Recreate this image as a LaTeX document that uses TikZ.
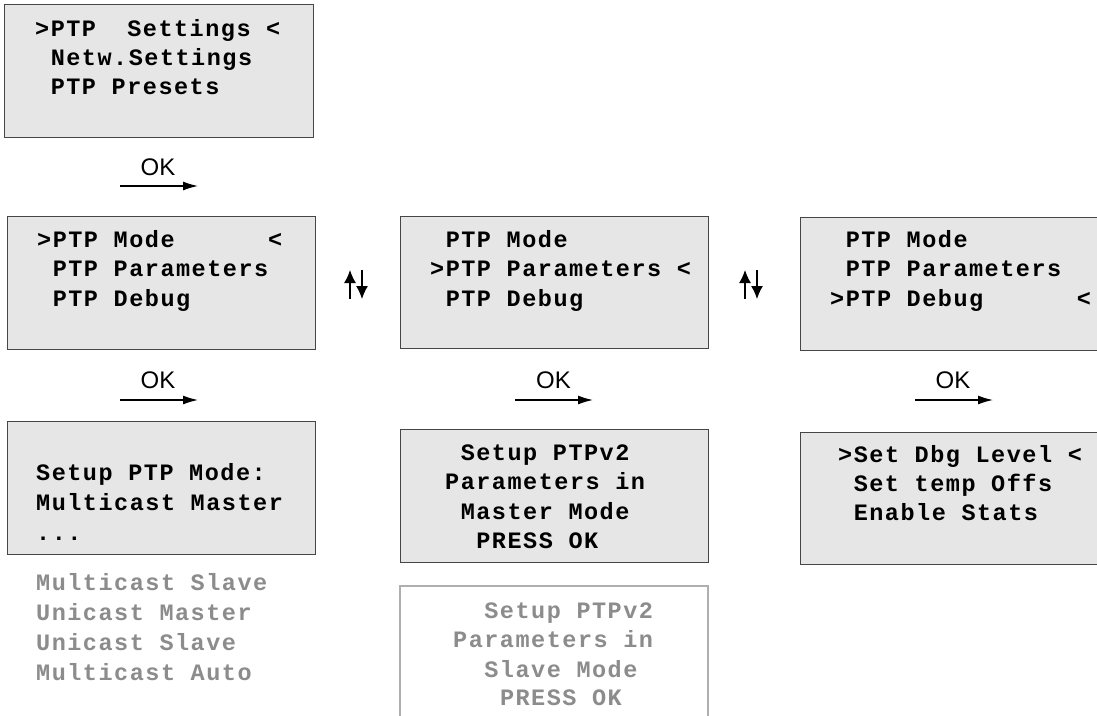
\documentclass[tikz,border=0pt]{standalone}
\usepackage{fontspec}
\setmainfont{Liberation Sans}
\newfontfamily\lcdfont[LetterSpace=6.4]{Liberation Mono}
\usetikzlibrary{arrows.meta}
\definecolor{boxfill}{RGB}{230,230,230}
\definecolor{boxline}{RGB}{70,70,70}
\definecolor{greytext}{RGB}{140,140,140}
\definecolor{greyline}{RGB}{175,175,175}
\newcommand\sk{\hspace{15.6pt}}
\begin{document}
\begin{tikzpicture}[x=1pt,y=-1pt,
  screen/.style={draw=boxline, fill=boxfill, line width=1.3pt, anchor=north west, inner sep=0pt},
  ghostscreen/.style={draw=greyline, line width=1.3pt},
  ln/.style={anchor=base west, inner sep=0pt, font=\lcdfont\bfseries\fontsize{23.5}{29}\selectfont},
  gln/.style={ln, text=greytext},
  oklabel/.style={anchor=base, inner sep=0pt, font=\fontsize{24}{28}\selectfont},
  okarrow/.style={line width=1.3pt, -{Latex[length=15pt,width=9pt]}},
  updown/.style={line width=1.3pt, -{Latex[length=13pt,width=12pt]}}]
\useasboundingbox (0,0) rectangle (1097,715);
\clip (0,0) rectangle (1097,715);
\fill[white] (0,0) rectangle (1097,715);

% screens
\node[screen, minimum width=309pt, minimum height=133pt] (b1) at (4,4) {};
\node[screen, minimum width=308pt, minimum height=133pt] (b2) at (7,216) {};
\node[screen, minimum width=308pt, minimum height=132pt] (b3) at (400,216) {};
\node[screen, minimum width=320pt, minimum height=133pt] (b4) at (800,217) {};
\node[screen, minimum width=308pt, minimum height=133pt] (b5) at (7,421) {};
\node[screen, minimum width=308pt, minimum height=133pt] (b6) at (400,429) {};
\node[screen, minimum width=320pt, minimum height=132pt] (b7) at (800,432) {};
\draw[ghostscreen] (400,740) -- (400,586) -- (708,586) -- (708,740);

% box 1
\node[ln] (t11) at (35,36) {>PTP\sk\sk Settings <};
\node[ln] (t12) at (50.6,65) {Netw.Settings};
\node[ln] (t13) at (50.6,94) {PTP Presets};
% box 2
\node[ln] (t21) at (37,247) {>PTP Mode\sk\sk\sk\sk\sk\sk<};
\node[ln] (t22) at (52.6,276.5) {PTP Parameters};
\node[ln] (t23) at (52.6,306) {PTP Debug};
% box 3
\node[ln] (t31) at (445.6,247) {PTP Mode};
\node[ln] (t32) at (430,276.5) {>PTP Parameters <};
\node[ln] (t33) at (445.6,306) {PTP Debug};
% box 4
\node[ln] (t41) at (845.6,247) {PTP Mode};
\node[ln] (t42) at (845.6,276.5) {PTP Parameters};
\node[ln] (t43) at (830,306) {>PTP Debug\sk\sk\sk\sk\sk\sk<};
% box 5
\node[ln] (t51) at (36,480) {Setup PTP Mode:};
\node[ln] (t52) at (36,510) {Multicast Master};
\node[ln] (t53) at (36,540) {...};
\node[gln] (g51) at (36,590) {Multicast Slave};
\node[gln] (g52) at (36,620) {Unicast Master};
\node[gln] (g53) at (36,650) {Unicast Slave};
\node[gln] (g54) at (36,680) {Multicast Auto};
% box 6
\node[ln] (t61) at (460.6,460) {Setup PTPv2};
\node[ln] (t62) at (445,489.5) {Parameters in};
\node[ln] (t63) at (460.6,519) {Master Mode};
\node[ln] (t64) at (476.2,548.5) {PRESS OK};
% ghost box
\node[gln] (g61) at (484.2,618) {Setup PTPv2};
\node[gln] (g62) at (453,647) {Parameters in};
\node[gln] (g63) at (484.2,677) {Slave Mode};
\node[gln] (g64) at (499.8,705) {PRESS OK};
% box 7
\node[ln] (t71) at (838,462) {>Set Dbg Level <};
\node[ln] (t72) at (853.6,491) {Set temp Offs};
\node[ln] (t73) at (853.6,520) {Enable Stats};

% OK arrows
\node[oklabel] (ok1) at (158,175) {OK};
\coordinate (a1s) at (120,186); \coordinate (a1e) at (198,186);
\draw[okarrow] (a1s) -- (a1e);
\node[oklabel] (ok2) at (158,388) {OK};
\coordinate (a2s) at (120,400); \coordinate (a2e) at (198,400);
\draw[okarrow] (a2s) -- (a2e);
\node[oklabel] (ok3) at (553.5,388) {OK};
\coordinate (a3s) at (515,400); \coordinate (a3e) at (593,400);
\draw[okarrow] (a3s) -- (a3e);
\node[oklabel] (ok4) at (953,388) {OK};
\coordinate (a4s) at (915,400); \coordinate (a4e) at (993,400);
\draw[okarrow] (a4s) -- (a4e);

% up/down arrows
\coordinate (u1s) at (350,299); \coordinate (u1e) at (350,270);
\coordinate (d1s) at (362,270); \coordinate (d1e) at (362,299);
\draw[updown] (u1s) -- (u1e);
\draw[updown] (d1s) -- (d1e);
\coordinate (u2s) at (745,299); \coordinate (u2e) at (745,270);
\coordinate (d2s) at (757,270); \coordinate (d2e) at (757,299);
\draw[updown] (u2s) -- (u2e);
\draw[updown] (d2s) -- (d2e);
\end{tikzpicture}
\end{document}
